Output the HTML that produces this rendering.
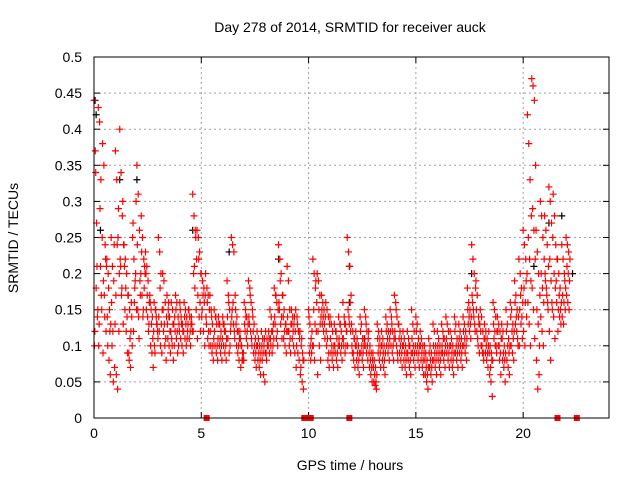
<!DOCTYPE html>
<html><head><meta charset="utf-8"><style>
body{margin:0;background:#fff}
svg{display:block;font-family:"Liberation Sans",sans-serif}
</style></head><body>
<svg id="c" width="640" height="480">
<rect width="640" height="480" fill="#fff"/>
<text x="350" y="32" font-size="14" text-anchor="middle">Day 278 of 2014, SRMTID for receiver auck</text>
<text x="350" y="470" font-size="14" text-anchor="middle">GPS time / hours</text>
<text transform="translate(18,238) rotate(-90)" font-size="14" text-anchor="middle">SRMTID / TECUs</text>
<g id="grid"></g><g id="ticks"></g><g id="pts"></g>
<rect x="94" y="57" width="515" height="361" fill="none" stroke="#000"/>
</svg>
<script>
const xTicks=[0,5,10,15,20];
const yTicks=[0,0.05,0.1,0.15,0.2,0.25,0.3,0.35,0.4,0.45,0.5];
const yLabels=["0","0.05","0.1","0.15","0.2","0.25","0.3","0.35","0.4","0.45","0.5"];
const binStarts=[0,0.2,0.4,0.6,0.8,1.0,1.2,1.4,1.6,1.8,2.0,2.2,2.4,2.6,2.8,3.0,3.2,3.4,3.6,3.8,4.0,4.2,4.4,4.6,4.8,5.0,5.2,5.4,5.6,5.8,6.0,6.2,6.4,6.6,6.8,7.0,7.2,7.4,7.6,7.8,8.0,8.2,8.4,8.6,8.8,9.0,9.2,9.4,9.6,10.0,10.2,10.4,10.6,10.8,11.0,11.2,11.4,11.6,11.8,12.0,12.2,12.4,12.6,12.8,13.0,13.2,13.4,13.6,13.8,14.0,14.2,14.4,14.6,14.8,15.0,15.2,15.4,15.6,15.8,16.0,16.2,16.4,16.6,16.8,17.0,17.2,17.4,17.6,17.8,18.0,18.2,18.4,18.6,18.8,19.0,19.2,19.4,19.6,19.8,20.0,20.2,20.4,20.6,20.8,21.0,21.2,21.4,21.6,21.8,22.0,22.2,22.4];
const binValues=[
[0.44,0.37,0.27,0.15,0.12,0.18,0.14,0.1,0.34,0.21],
[0.43,0.41,0.33,0.25,0.13,0.21,0.15,0.1,0.29,0.17],
[0.38,0.35,0.24,0.21,0.19,0.14,0.12,0.09,0.17,0.22],
[0.22,0.2,0.15,0.13,0.1,0.08,0.06,0.14,0.18,0.12],
[0.25,0.21,0.19,0.13,0.1,0.05,0.07,0.16,0.12,0.24],
[0.37,0.33,0.25,0.2,0.06,0.04,0.12,0.17,0.24,0.29],
[0.4,0.34,0.28,0.24,0.21,0.18,0.13,0.22,0.17,0.3],
[0.24,0.22,0.2,0.17,0.15,0.12,0.09,0.21,0.18,0.14],
[0.17,0.15,0.12,0.1,0.08,0.07,0.14,0.09,0.11,0.16],
[0.25,0.22,0.19,0.15,0.12,0.18,0.3,0.27,0.16,0.2],
[0.35,0.31,0.26,0.2,0.15,0.11,0.17,0.24,0.14,0.19],
[0.28,0.25,0.22,0.2,0.17,0.15,0.21,0.23,0.14,0.18],
[0.23,0.21,0.19,0.16,0.15,0.14,0.13,0.2,0.17,0.12],
[0.17,0.15,0.14,0.12,0.1,0.09,0.07,0.16,0.13,0.11],
[0.16,0.15,0.13,0.11,0.09,0.14,0.12,0.1,0.15,0.13],
[0.25,0.23,0.2,0.15,0.12,0.1,0.09,0.14,0.18,0.13],
[0.2,0.19,0.16,0.14,0.12,0.1,0.08,0.15,0.13,0.11],
[0.17,0.15,0.14,0.12,0.11,0.1,0.09,0.13,0.16,0.12],
[0.16,0.15,0.13,0.12,0.1,0.08,0.14,0.11,0.13,0.1],
[0.17,0.16,0.14,0.12,0.11,0.09,0.13,0.15,0.12,0.1],
[0.16,0.14,0.13,0.12,0.11,0.1,0.09,0.15,0.13,0.12],
[0.16,0.15,0.14,0.13,0.11,0.1,0.12,0.14,0.13,0.11],
[0.15,0.14,0.13,0.12,0.11,0.1,0.13,0.15,0.12,0.14],
[0.31,0.28,0.26,0.22,0.2,0.18,0.15,0.12,0.21,0.25],
[0.26,0.25,0.23,0.2,0.17,0.14,0.12,0.11,0.22,0.16],
[0.2,0.19,0.18,0.17,0.15,0.12,0.1,0.14,0.17,0.16],
[0.2,0.18,0.17,0.15,0.13,0.11,0.1,0.14,0.16,0.12],
[0.17,0.15,0.13,0.11,0.1,0.09,0.08,0.12,0.14,0.1],
[0.15,0.14,0.13,0.11,0.1,0.09,0.08,0.12,0.14,0.1],
[0.14,0.13,0.12,0.11,0.1,0.09,0.08,0.13,0.11,0.1],
[0.14,0.13,0.12,0.11,0.1,0.09,0.08,0.13,0.12,0.1],
[0.19,0.17,0.15,0.13,0.11,0.09,0.12,0.14,0.16,0.1],
[0.25,0.24,0.23,0.17,0.15,0.13,0.11,0.14,0.16,0.12],
[0.15,0.14,0.12,0.11,0.1,0.09,0.08,0.13,0.12,0.1],
[0.12,0.1,0.09,0.08,0.07,0.08,0.09,0.11,0.1,0.08],
[0.16,0.15,0.14,0.13,0.12,0.11,0.1,0.13,0.14,0.12],
[0.19,0.18,0.16,0.15,0.13,0.12,0.1,0.14,0.17,0.11],
[0.14,0.13,0.11,0.1,0.09,0.08,0.07,0.12,0.1,0.09],
[0.12,0.11,0.1,0.09,0.08,0.07,0.06,0.1,0.09,0.08],
[0.12,0.11,0.1,0.09,0.08,0.06,0.05,0.1,0.09,0.11],
[0.12,0.11,0.1,0.09,0.08,0.1,0.11,0.09,0.1,0.12],
[0.15,0.14,0.12,0.11,0.1,0.09,0.13,0.11,0.12,0.1],
[0.18,0.17,0.16,0.15,0.13,0.11,0.1,0.14,0.17,0.12],
[0.24,0.22,0.2,0.17,0.15,0.13,0.11,0.16,0.19,0.14],
[0.17,0.15,0.13,0.12,0.11,0.1,0.09,0.14,0.12,0.13],
[0.21,0.19,0.15,0.13,0.12,0.1,0.09,0.14,0.12,0.11],
[0.15,0.14,0.13,0.12,0.11,0.1,0.09,0.13,0.12,0.14],
[0.15,0.14,0.12,0.11,0.1,0.09,0.08,0.07,0.13,0.12],
[0.12,0.1,0.09,0.08,0.07,0.05,0.04,0.06,0.11,0.08],
[0.15,0.13,0.11,0.1,0.09,0.08,0.12,0.14,0.1,0.09],
[0.22,0.2,0.18,0.16,0.15,0.13,0.12,0.1,0.08,0.19],
[0.2,0.19,0.17,0.14,0.12,0.1,0.08,0.06,0.15,0.13],
[0.17,0.16,0.15,0.14,0.13,0.12,0.11,0.15,0.14,0.13],
[0.16,0.15,0.14,0.13,0.1,0.08,0.07,0.12,0.11,0.09],
[0.14,0.13,0.12,0.1,0.09,0.08,0.07,0.11,0.1,0.09],
[0.13,0.12,0.11,0.1,0.09,0.08,0.07,0.1,0.12,0.09],
[0.14,0.13,0.12,0.11,0.1,0.09,0.08,0.11,0.13,0.1],
[0.16,0.14,0.13,0.12,0.1,0.09,0.12,0.11,0.13,0.1],
[0.25,0.23,0.21,0.17,0.15,0.13,0.12,0.1,0.14,0.16],
[0.13,0.12,0.11,0.1,0.09,0.08,0.07,0.1,0.09,0.11],
[0.12,0.11,0.1,0.09,0.08,0.07,0.06,0.1,0.09,0.08],
[0.14,0.13,0.11,0.1,0.09,0.08,0.07,0.12,0.1,0.09],
[0.15,0.14,0.12,0.11,0.1,0.09,0.08,0.11,0.13,0.1],
[0.12,0.1,0.09,0.08,0.07,0.06,0.05,0.09,0.08,0.07],
[0.09,0.08,0.07,0.06,0.05,0.045,0.04,0.07,0.06,0.05],
[0.13,0.12,0.11,0.1,0.09,0.08,0.07,0.11,0.1,0.09],
[0.12,0.11,0.1,0.09,0.08,0.07,0.06,0.1,0.09,0.08],
[0.14,0.13,0.12,0.11,0.1,0.09,0.08,0.12,0.11,0.1],
[0.15,0.14,0.12,0.11,0.1,0.09,0.08,0.12,0.13,0.1],
[0.17,0.16,0.14,0.13,0.11,0.1,0.08,0.12,0.15,0.09],
[0.13,0.12,0.11,0.1,0.09,0.08,0.07,0.11,0.1,0.09],
[0.12,0.11,0.1,0.09,0.08,0.07,0.06,0.1,0.09,0.08],
[0.12,0.11,0.1,0.09,0.08,0.07,0.06,0.09,0.1,0.08],
[0.15,0.13,0.12,0.1,0.09,0.08,0.07,0.11,0.1,0.09],
[0.14,0.13,0.11,0.1,0.09,0.08,0.07,0.12,0.1,0.09],
[0.12,0.11,0.1,0.09,0.08,0.07,0.06,0.1,0.09,0.08],
[0.1,0.09,0.08,0.07,0.06,0.05,0.04,0.08,0.07,0.06],
[0.11,0.1,0.09,0.08,0.07,0.06,0.05,0.09,0.08,0.07],
[0.13,0.12,0.1,0.09,0.08,0.07,0.06,0.1,0.09,0.08],
[0.12,0.11,0.1,0.09,0.08,0.07,0.06,0.1,0.09,0.08],
[0.13,0.12,0.11,0.1,0.09,0.08,0.07,0.1,0.11,0.09],
[0.14,0.13,0.12,0.1,0.09,0.08,0.07,0.11,0.1,0.09],
[0.12,0.11,0.1,0.09,0.08,0.07,0.06,0.1,0.09,0.08],
[0.14,0.13,0.11,0.1,0.09,0.08,0.07,0.12,0.1,0.09],
[0.13,0.12,0.11,0.1,0.09,0.08,0.07,0.11,0.1,0.09],
[0.14,0.13,0.12,0.11,0.1,0.09,0.08,0.12,0.11,0.1],
[0.18,0.16,0.15,0.14,0.13,0.12,0.11,0.15,0.14,0.13],
[0.24,0.22,0.2,0.18,0.16,0.14,0.12,0.17,0.15,0.13],
[0.19,0.17,0.14,0.13,0.12,0.1,0.09,0.15,0.11,0.13],
[0.15,0.14,0.12,0.11,0.1,0.09,0.08,0.12,0.1,0.09],
[0.13,0.12,0.11,0.1,0.09,0.08,0.07,0.11,0.1,0.09],
[0.12,0.1,0.09,0.08,0.06,0.05,0.03,0.09,0.07,0.08],
[0.16,0.15,0.14,0.12,0.11,0.1,0.09,0.13,0.12,0.1],
[0.14,0.13,0.12,0.11,0.1,0.08,0.06,0.12,0.1,0.09],
[0.13,0.12,0.1,0.09,0.08,0.07,0.05,0.11,0.09,0.08],
[0.15,0.13,0.11,0.1,0.08,0.07,0.06,0.12,0.1,0.09],
[0.16,0.15,0.13,0.12,0.1,0.09,0.08,0.14,0.12,0.11],
[0.19,0.17,0.15,0.14,0.13,0.12,0.1,0.16,0.14,0.11],
[0.22,0.2,0.18,0.16,0.15,0.13,0.11,0.1,0.17,0.14],
[0.26,0.24,0.22,0.2,0.18,0.16,0.14,0.12,0.1,0.19],
[0.42,0.38,0.33,0.28,0.25,0.22,0.19,0.16,0.13,0.1],
[0.47,0.46,0.44,0.35,0.29,0.26,0.22,0.18,0.15,0.11],
[0.26,0.23,0.2,0.17,0.15,0.13,0.1,0.08,0.04,0.06],
[0.3,0.28,0.25,0.22,0.2,0.18,0.16,0.14,0.12,0.1],
[0.28,0.26,0.24,0.21,0.19,0.17,0.15,0.2,0.18,0.16],
[0.32,0.3,0.27,0.25,0.22,0.19,0.15,0.12,0.08,0.16],
[0.31,0.28,0.24,0.22,0.2,0.18,0.16,0.14,0.11,0.19],
[0.22,0.2,0.18,0.16,0.15,0.14,0.13,0.12,0.17,0.15],
[0.24,0.22,0.2,0.18,0.17,0.16,0.15,0.14,0.13,0.19],
[0.25,0.24,0.23,0.22,0.21,0.2,0.19,0.17,0.16,0.15]
];
const blackTimes=[0.05,0.1,0.3,1.2,2.0,3.5,4.6,6.3,8.6,11.9,11.9,12.6,17.6,20.5,21.2,21.8,22.3];
const blackValues=[0.44,0.42,0.26,0.33,0.33,0.14,0.26,0.23,0.22,0.21,0.16,0.11,0.2,0.21,0.27,0.28,0.2];
const zeroMarks=[5.25,9.8,9.9,10.0,10.1,11.9,21.6,22.5];

const X0=94,X1=609,Y0=418,Y1=57,XMAX=24,YMAX=0.5;
const xs=t=>X0+(X1-X0)*t/XMAX, ys=v=>Y0-(Y0-Y1)*v/YMAX;
const NS="http://www.w3.org/2000/svg";
function mk(tag,at,parent){const e=document.createElementNS(NS,tag);for(const k in at)e.setAttribute(k,at[k]);document.getElementById(parent).appendChild(e);return e;}
xTicks.forEach(t=>{
  const x=xs(t);
  if(t>0){const g=mk('line',{x1:x,x2:x,y1:Y1,y2:Y0,stroke:'#a0a0a0','stroke-dasharray':'2,3'},'grid');
  
  }
  const l=mk('text',{x:x,y:Y0+20,'font-size':14,'text-anchor':'middle'},'ticks');l.textContent=t;
  
  
  mk('line',{x1:x,x2:x,y1:Y0,y2:Y0-6,stroke:'#000'},'ticks');
  mk('line',{x1:x,x2:x,y1:Y1,y2:Y1+6,stroke:'#000'},'ticks');
});
yTicks.forEach((v,i)=>{
  const y=ys(v);
  if(v>0&&v<0.5){const g=mk('line',{x1:X0,x2:X1,y1:y,y2:y,stroke:'#a0a0a0','stroke-dasharray':'2,3'},'grid');
  
  }
  const l=mk('text',{x:X0-12,y:y+5,'font-size':14,'text-anchor':'end'},'ticks');l.textContent=yLabels[i];
  
  
  mk('line',{x1:X0,x2:X0+6,y1:y,y2:y,stroke:'#000'},'ticks');
  mk('line',{x1:X1,x2:X1-6,y1:y,y2:y,stroke:'#000'},'ticks');
});
function plus(t,v,col){
  const x=xs(t),y=ys(v);
  const p=mk('path',{d:`M${x-3.5},${y}h7M${x},${y-3.5}v7`,stroke:col,'stroke-width':1.2,fill:'none'},'pts');
  
  
}
blackTimes.forEach((t,i)=>plus(t,blackValues[i],'#000'));
binValues.forEach((vs,i)=>{
  const t=binStarts[i];
  if(t===undefined||!vs)return;
  vs.forEach((v,k)=>plus(t+0.2*((k*3)%vs.length)/vs.length,v,'#f00'));
});
zeroMarks.forEach(t=>{
  const r=mk('rect',{x:xs(t)-3,y:Y0-3,width:6,height:6,fill:'#f00'},'pts');
  
  
});
</script>
</body></html>
